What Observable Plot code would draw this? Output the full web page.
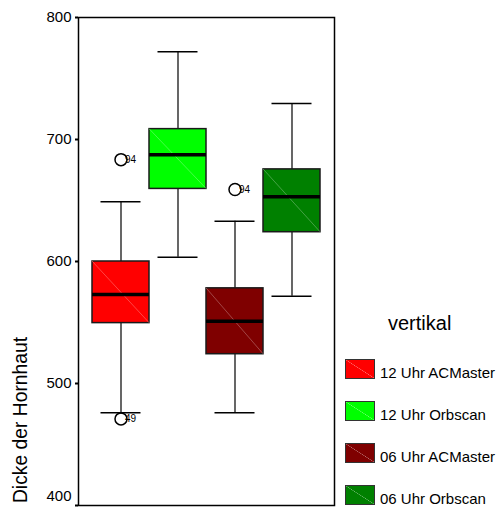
<!DOCTYPE html>
<html>
<head>
<meta charset="utf-8">
<script src="https://cdn.jsdelivr.net/npm/d3@7"></script>
<script src="https://cdn.jsdelivr.net/npm/@observablehq/plot@0.6"></script>
<style>
  body { margin: 0; background: #fff; font-family: "Liberation Sans", Arial, sans-serif; }
  #wrap { position: relative; width: 501px; height: 507px; overflow: hidden; background: #fff; }
  #wrap svg { position: absolute; left: 0; top: 0; }
  #ylabel { position: absolute; left: 19.5px; top: 420px; transform: translate(-50%, -50%) rotate(-90deg);
            font-size: 19.3px; line-height: 19px; white-space: nowrap; color: #000; }
  #legtitle { position: absolute; left: 388px; top: 313px; font-size: 20px; line-height: 20px; color: #000; white-space: nowrap; }
  .sw { position: absolute; left: 345px; width: 28px; height: 18px; border: 1px solid #333; }
  .lt { position: absolute; left: 380px; font-size: 15px; line-height: 15px; color: #000; white-space: nowrap; }
</style>
</head>
<body>
<div id="wrap"></div>
<script>
// Data
const series = ["12 Uhr ACMaster", "12 Uhr Orbscan", "06 Uhr ACMaster", "06 Uhr Orbscan"];
const colors = ["#ff0000", "#00ff00", "#7f0000", "#008000"];
const q1 = [549.5, 659.5, 524, 624];
const median = [573, 687.5, 551, 653];
const q3 = [600, 708.5, 578, 675.5];
const whiskerLow = [476, 603.5, 476, 571.5];
const whiskerHigh = [649, 772, 633, 729.5];
const outlierSeries = ["12 Uhr ACMaster", "12 Uhr ACMaster", "06 Uhr ACMaster"];
const outlierValues = [683.5, 471, 659];
const outlierLabels = ["94", "49", "94"];
const yTicks = [400, 500, 600, 700, 800];
const yLabel = "Dicke der Hornhaut";
const legendTitle = "vertikal";

const boxes = series.map((s, i) => ({s, q1: q1[i], med: median[i], q3: q3[i], lo: whiskerLow[i], hi: whiskerHigh[i]}));
const outliers = outlierValues.map((v, i) => ({s: outlierSeries[i], v, label: outlierLabels[i]}));
const yMin = d3.min(yTicks);

const chart = Plot.plot({
  width: 501,
  height: 507,
  marginLeft: 78,
  marginRight: 167,
  marginTop: 17,
  marginBottom: 2,
  style: {fontFamily: '"Liberation Sans", Arial, sans-serif', fontSize: "15px", color: "#000", background: "transparent", overflow: "visible"},
  x: {domain: series, axis: null, paddingInner: 0, paddingOuter: 0.226},
  y: {domain: [400, 800], axis: null},
  color: {domain: series, range: colors},
  marks: [
    Plot.axisY(yTicks, {tickSize: 3, strokeWidth: 2, text: null, label: null}),
    Plot.axisY(yTicks.filter(t => t !== yMin), {tickSize: 0, tickPadding: 7, label: null, fontSize: 15}),
    Plot.axisY([yMin], {tickSize: 0, tickPadding: 7, label: null, fontSize: 15, dy: -9}),
    Plot.ruleX(boxes, {x: "s", y1: "lo", y2: "q1", stroke: "#000", strokeWidth: 1.2}),
    Plot.ruleX(boxes, {x: "s", y1: "q3", y2: "hi", stroke: "#000", strokeWidth: 1.2}),
    Plot.tickY(boxes, {x: "s", y: "lo", insetLeft: 8.5, insetRight: 8.5, stroke: "#000", strokeWidth: 1.5}),
    Plot.tickY(boxes, {x: "s", y: "hi", insetLeft: 8.5, insetRight: 8.5, stroke: "#000", strokeWidth: 1.5}),
    Plot.barY(boxes, {x: "s", y1: "q1", y2: "q3", fill: "s", stroke: "#1a1a1a", strokeWidth: 1.5}),
    Plot.tickY(boxes, {x: "s", y: "med", stroke: "#000", strokeWidth: 3.5}),
    Plot.text(outliers, {x: "s", y: "v", text: "label", textAnchor: "start", dx: 4, fontSize: 10, fill: "#000"}),
    Plot.dot(outliers, {x: "s", y: "v", r: 6, stroke: "#000", strokeWidth: 1.5, fill: "none"}),
    Plot.frame({stroke: "#000", strokeWidth: 1.5})
  ]
});

// diagonal pattern line inside each box (top-left to bottom-right)
d3.select(chart).selectAll('g[aria-label="bar"] rect').each(function() {
  const r = d3.select(this);
  const x = +r.attr("x"), y = +r.attr("y"), w = +r.attr("width"), h = +r.attr("height");
  const f = r.attr("fill");
  d3.select(this.parentNode).append("line")
    .attr("x1", x).attr("y1", y).attr("x2", x + w).attr("y2", y + h)
    .attr("stroke", d3.interpolateRgb(f, "#fff")(0.45))
    .attr("stroke-width", 0.6);
});

const wrap = document.getElementById("wrap");
wrap.appendChild(chart);

const yl = document.createElement("div");
yl.id = "ylabel";
yl.textContent = yLabel;
wrap.appendChild(yl);

const lt = document.createElement("div");
lt.id = "legtitle";
lt.textContent = legendTitle;
wrap.appendChild(lt);

series.forEach((s, i) => {
  const top = 359 + i * 42;
  const c = colors[i];
  const light = d3.interpolateRgb(c, "#fff")(0.45);
  const sw = document.createElement("div");
  sw.className = "sw";
  sw.style.top = top + "px";
  sw.style.background = `linear-gradient(to top right, ${c} calc(50% - 0.5px), ${light} 50%, ${c} calc(50% + 0.5px))`;
  wrap.appendChild(sw);
  const t = document.createElement("div");
  t.className = "lt";
  t.style.top = (top + 6) + "px";
  t.textContent = s;
  wrap.appendChild(t);
});
</script>
</body>
</html>
